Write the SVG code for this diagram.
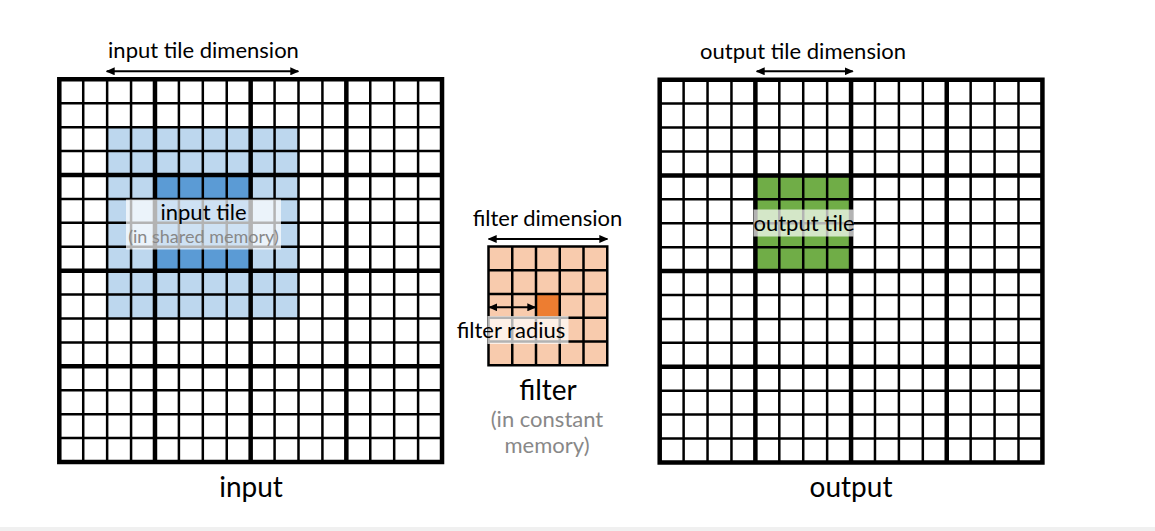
<svg xmlns="http://www.w3.org/2000/svg" xmlns:xlink="http://www.w3.org/1999/xlink" width="1155" height="531" viewBox="0 0 1155 531">
<style>
.thin{fill:none;stroke:#000;stroke-width:2.5}
.thick{fill:none;stroke:#000;stroke-width:4.5;stroke-linecap:square}
.lbl{font-family:Lato,"Liberation Sans",sans-serif;font-size:22px;fill:#000;text-anchor:middle}
.big{font-family:Lato,"Liberation Sans",sans-serif;font-size:28px;fill:#000;text-anchor:middle}
.sub{font-family:Lato,"Liberation Sans",sans-serif;fill:#888;text-anchor:middle}
.veil{fill:#fff;fill-opacity:0.7}
.arrow{fill:none;stroke:#000;stroke-width:2;marker-start:url(#ah);marker-end:url(#ah)}
</style>
<defs>
<marker id="ah" markerUnits="userSpaceOnUse" markerWidth="9" markerHeight="8" refX="8" refY="4" orient="auto-start-reverse">
<path d="M0,0 L9,4 L0,8 z" fill="#000"/>
</marker>
<g id="grid16">
<path class="thin" d="M23.92 0V382.72M47.84 0V382.72M71.76 0V382.72M119.6 0V382.72M143.52 0V382.72M167.44 0V382.72M215.28 0V382.72M239.2 0V382.72M263.12 0V382.72M310.96 0V382.72M334.88 0V382.72M358.8 0V382.72M0 23.92H382.72M0 47.84H382.72M0 71.76H382.72M0 119.6H382.72M0 143.52H382.72M0 167.44H382.72M0 215.28H382.72M0 239.2H382.72M0 263.12H382.72M0 310.96H382.72M0 334.88H382.72M0 358.8H382.72"/>
<path class="thick" d="M0 0V382.72M95.68 0V382.72M191.36 0V382.72M287.04 0V382.72M382.72 0V382.72M0 0H382.72M0 95.68H382.72M0 191.36H382.72M0 287.04H382.72M0 382.72H382.72"/>
</g>
</defs>
<rect x="0" y="0" width="1155" height="531" fill="#fff"/>
<rect x="0" y="527" width="1155" height="4" fill="#f0f0f0"/>

<g id="input">
<rect x="107.14" y="127.14" width="191.36" height="191.36" fill="#bdd7ee"/>
<rect x="154.98" y="174.98" width="95.68" height="95.68" fill="#5b9bd5"/>
<use xlink:href="#grid16" transform="translate(59.3 79.3)"/>
<text class="big" x="251" y="497">input</text>
</g>

<g id="input-tile-label">
<rect class="veil" x="126" y="199.5" width="155" height="50"/>
<text class="lbl" x="203.5" y="220">input tile</text>
<text class="sub" x="203.5" y="243" font-size="18">(in shared memory)</text>
</g>

<g id="filter">
<rect x="488.5" y="246.5" width="118.75" height="118.75" fill="#f8cbad"/>
<rect x="536" y="294" width="23.75" height="23.75" fill="#ed7d31"/>
<path class="thin" d="M488.5 246.5V365.25M512.25 246.5V365.25M536 246.5V365.25M559.75 246.5V365.25M583.5 246.5V365.25M607.25 246.5V365.25M488.5 246.5H607.25M488.5 270.25H607.25M488.5 294H607.25M488.5 317.75H607.25M488.5 341.5H607.25M488.5 365.25H607.25" stroke-linecap="square"/>
<text class="big" x="548" y="400">filter</text>
<text class="sub" x="547" y="427" font-size="22">(in constant</text>
<text class="sub" x="547" y="453" font-size="22">memory)</text>
</g>

<g id="filter-radius-label">
<rect class="veil" x="487.5" y="316" width="81" height="28"/>
<text class="lbl" x="511" y="337.5">filter radius</text>
</g>

<g id="output">
<rect x="755.38" y="175.38" width="95.68" height="95.68" fill="#70ad47"/>
<use xlink:href="#grid16" transform="translate(659.7 79.7)"/>
<text class="big" x="851" y="497">output</text>
</g>

<g id="output-tile-label">
<rect class="veil" x="753.5" y="209.5" width="100" height="27"/>
<text class="lbl" x="804" y="230.5">output tile</text>
</g>

<g id="dimension-labels">
<text class="lbl" x="203.5" y="57.5">input tile dimension</text>
<text class="lbl" x="803" y="58.5">output tile dimension</text>
<text class="lbl" x="547.5" y="226">filter dimension</text>
</g>

<g id="connectors">
<line class="arrow" x1="106.7" y1="71.3" x2="298.3" y2="71.3"/>
<line class="arrow" x1="756.7" y1="71.3" x2="852.7" y2="71.3"/>
<line class="arrow" x1="488.7" y1="239" x2="607.3" y2="239"/>
<line class="arrow" x1="489.3" y1="307.3" x2="535.3" y2="307.3"/>
</g>
</svg>
